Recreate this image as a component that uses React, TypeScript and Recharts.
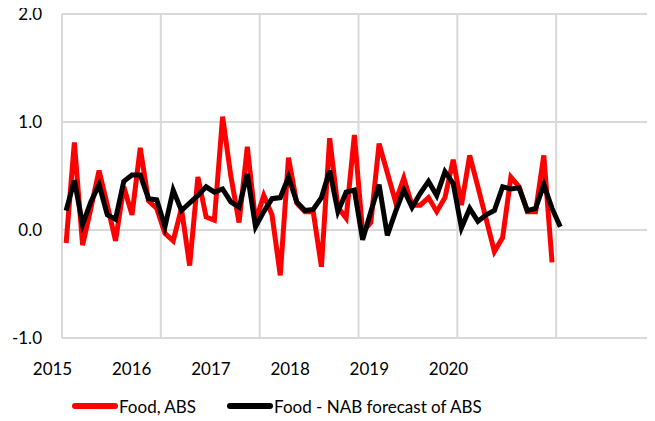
import React from "react";
import { LineChart, Line, XAxis, YAxis, CartesianGrid, Legend } from "recharts";

const months = [
  "2015-01","2015-02","2015-03","2015-04","2015-05","2015-06","2015-07","2015-08","2015-09","2015-10","2015-11","2015-12",
  "2016-01","2016-02","2016-03","2016-04","2016-05","2016-06","2016-07","2016-08","2016-09","2016-10","2016-11","2016-12",
  "2017-01","2017-02","2017-03","2017-04","2017-05","2017-06","2017-07","2017-08","2017-09","2017-10","2017-11","2017-12",
  "2018-01","2018-02","2018-03","2018-04","2018-05","2018-06","2018-07","2018-08","2018-09","2018-10","2018-11","2018-12",
  "2019-01","2019-02","2019-03","2019-04","2019-05","2019-06","2019-07","2019-08","2019-09","2019-10","2019-11","2019-12",
  "2020-01",
];

const foodABS = [
  -0.12, 0.81, -0.14, 0.2, 0.55, 0.23, -0.1, 0.4, 0.14, 0.76, 0.27, 0.2,
  -0.03, -0.1, 0.2, -0.33, 0.49, 0.12, 0.09, 1.05, 0.5, 0.07, 0.77, 0.08,
  0.32, 0.14, -0.42, 0.67, 0.25, 0.17, 0.17, -0.34, 0.85, 0.21, 0.11, 0.88,
  -0.02, 0.07, 0.8, 0.53, 0.26, 0.48, 0.23, 0.23, 0.3, 0.17, 0.3, 0.65,
  0.23, 0.69, 0.4, 0.1, -0.2, -0.07, 0.49, 0.4, 0.17, 0.17, 0.69, -0.3,
];

const nabForecast = [
  0.18, 0.46, 0.05, 0.26, 0.42, 0.14, 0.1, 0.45, 0.51, 0.51, 0.29, 0.28,
  0.03, 0.37, 0.18, 0.25, 0.32, 0.4, 0.35, 0.38, 0.26, 0.21, 0.52, 0.03,
  0.17, 0.29, 0.3, 0.49, 0.26, 0.18, 0.19, 0.3, 0.55, 0.17, 0.35, 0.37,
  -0.09, 0.17, 0.42, -0.05, 0.17, 0.37, 0.21, 0.34, 0.45, 0.32, 0.54, 0.43,
  0.02, 0.2, 0.08, 0.14, 0.18, 0.4, 0.38, 0.39, 0.18, 0.2, 0.42, 0.2,
  0.03,
];

const yearLabels = ["2015", "2016", "2017", "2018", "2019", "2020"];
const labelSlots = [0, 1, 2, 3, 4, 5];
const gridYears = [2015, 2016, 2017, 2018, 2019, 2020];
const yTicks = [-1, 0, 1, 2];

const data = months.map((m, i) => {
  const [y, mo] = m.split("-").map(Number);
  return {
    t: y + (mo - 0.5) / 12,
    food: i < foodABS.length ? foodABS[i] : undefined,
    nab: nabForecast[i],
  };
});

const labelData = labelSlots.map((k) => ({ k, v: 0 }));

const FONT = "Lato, 'Open Sans', sans-serif";

const series = [
  { name: "Food, ABS", color: "#ff0000" },
  { name: "Food - NAB forecast of ABS", color: "#000000" },
];

const renderLegend = () => (
  <div
    style={{
      display: "flex",
      alignItems: "center",
      paddingTop: 18,
      height: 20,
      fontFamily: FONT,
      fontSize: 17,
      color: "#000",
      whiteSpace: "nowrap",
    }}
  >
    {series.map((s, i) => (
      <div key={s.name} style={{ display: "flex", alignItems: "center", marginRight: i === 0 ? 31 : 0 }}>
        <svg width={46} height={12} style={{ display: "block" }}>
          <line x1={3} y1={6} x2={43} y2={6} stroke={s.color} strokeWidth={6} strokeLinecap="round" />
        </svg>
        <span style={{ marginLeft: 1 }}>{s.name}</span>
      </div>
    ))}
  </div>
);

const EmptyTick = () => <g />;

export default function App() {
  return (
    <div style={{ margin: "-8px 0 0 -8px", width: 655, height: 421 }}>
      <LineChart
        width={655}
        height={421}
        data={data}
        margin={{ top: 14, right: 0, bottom: 0, left: 0 }}
        style={{ fontFamily: FONT }}
      >
        <CartesianGrid stroke="#d9d9d9" strokeWidth={2} />
        <XAxis
          dataKey="t"
          type="number"
          domain={[2015, 2021]}
          ticks={gridYears}
          interval={0}
          tick={EmptyTick}
          tickLine={false}
          axisLine={false}
          height={0}
        />
        <XAxis
          xAxisId="lbl"
          dataKey="k"
          type="number"
          domain={[0.12, 7.607]}
          allowDataOverflow
          ticks={labelSlots}
          tickFormatter={(v: number) => yearLabels[v] ?? ""}
          tickLine={false}
          tickSize={0}
          tickMargin={25}
          axisLine={false}
          height={40}
          interval={0}
          tick={{ fill: "#000", fontSize: 17, fontFamily: FONT }}
        />
        <YAxis
          type="number"
          domain={[-1, 2]}
          ticks={yTicks}
          tickFormatter={(v: number) => v.toFixed(1)}
          tickLine={false}
          tickSize={0}
          tickMargin={20}
          axisLine={false}
          width={62}
          interval={0}
          tick={{ fill: "#000", fontSize: 17, fontFamily: FONT }}
        />
        <Legend
          verticalAlign="bottom"
          align="left"
          height={43}
          content={renderLegend}
          wrapperStyle={{ left: 72 }}
        />
        <Line
          xAxisId="lbl"
          data={labelData}
          dataKey="v"
          stroke="none"
          dot={false}
          legendType="none"
          isAnimationActive={false}
        />
        <Line
          type="linear"
          dataKey="food"
          name="Food, ABS"
          stroke="#ff0000"
          strokeWidth={5}
          dot={false}
          isAnimationActive={false}
          connectNulls={false}
        />
        <Line
          type="linear"
          dataKey="nab"
          name="Food - NAB forecast of ABS"
          stroke="#000000"
          strokeWidth={5}
          dot={false}
          isAnimationActive={false}
        />
      </LineChart>
    </div>
  );
}
